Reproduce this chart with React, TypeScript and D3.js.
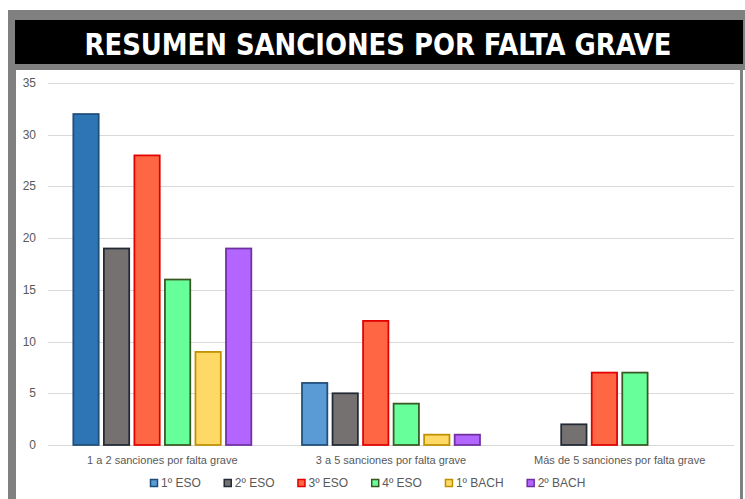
import React, { useEffect, useRef } from "react";
import * as d3 from "d3";

const title = "RESUMEN SANCIONES POR FALTA GRAVE";
const categories = [
  "1 a 2 sanciones por falta grave",
  "3 a 5 sanciones por falta grave",
  "Más de 5 sanciones por falta grave",
];
const seriesNames = ["1º ESO", "2º ESO", "3º ESO", "4º ESO", "1º BACH", "2º BACH"];
const esoPrimero = [32, 6, 0];
const esoSegundo = [19, 5, 2];
const esoTercero = [28, 12, 7];
const esoCuarto = [16, 4, 7];
const bachPrimero = [9, 1, 0];
const bachSegundo = [19, 1, 0];
const seriesValues = [esoPrimero, esoSegundo, esoTercero, esoCuarto, bachPrimero, bachSegundo];
const yTicks = [0, 5, 10, 15, 20, 25, 30, 35];

const fills = ["#5B9BD5", "#767171", "#FF6644", "#66FF99", "#FFD966", "#B266FF"];
const strokes = ["#1F4E79", "#222A35", "#E00000", "#385723", "#BF9000", "#7030A0"];
// first bar of 1º ESO in the first group is drawn darker in the reference
const pointFillOverride: Record<string, string> = { "0-0": "#2E75B6" };

const W = 745;
const H = 499;

export default function App() {
  const ref = useRef<SVGSVGElement>(null);

  useEffect(() => {
    const svg = d3.select(ref.current);
    svg.selectAll("*").remove();

    // frame
    svg.append("rect").attr("x", 8).attr("y", 10).attr("width", W - 8).attr("height", H - 10).attr("fill", "#808080");
    svg.append("rect").attr("x", 15).attr("y", 20).attr("width", 728).attr("height", 44).attr("fill", "#000");
    svg.append("rect").attr("x", 16).attr("y", 70).attr("width", 724).attr("height", H - 70).attr("fill", "#fff");
    svg.append("rect").attr("x", 743).attr("y", 70).attr("width", 2).attr("height", H - 70).attr("fill", "#fff");

    svg
      .append("text")
      .attr("x", 378)
      .attr("y", 55)
      .attr("text-anchor", "middle")
      .attr("fill", "#fff")
      .attr("font-family", "'DejaVu Sans Condensed', 'DejaVu Sans', sans-serif")
      .attr("font-weight", "bold")
      .attr("font-size", 31)
      .attr("textLength", 587)
      .attr("lengthAdjust", "spacingAndGlyphs")
      .text(title);

    const left = 48, right = 734, top = 83, bottom = 445;
    const y = d3.scaleLinear().domain([0, 35]).range([bottom, top]);
    const x0 = d3.scaleBand<string>().domain(categories).range([left, right]).paddingInner(0).paddingOuter(0);
    const inner = d3
      .scaleBand<string>()
      .domain(seriesNames)
      .range([x0.bandwidth() / 2 - 89, x0.bandwidth() / 2 + 89])
      .paddingInner(0.17);

    const axisFont = "'Liberation Sans Narrow', 'Liberation Sans', Arial, sans-serif";

    // gridlines
    svg
      .append("g")
      .selectAll("line")
      .data(yTicks)
      .join("line")
      .attr("x1", left)
      .attr("x2", right)
      .attr("y1", (d) => Math.round(y(d)) + 0.5)
      .attr("y2", (d) => Math.round(y(d)) + 0.5)
      .attr("stroke", "#D9D9D9")
      .attr("stroke-width", 1);

    svg
      .append("g")
      .selectAll("text")
      .data(yTicks)
      .join("text")
      .attr("x", 36)
      .attr("y", (d) => y(d) + 4)
      .attr("text-anchor", "end")
      .attr("fill", "#595959")
      .attr("font-family", axisFont)
      .attr("font-size", 12)
      .text((d) => String(d));

    // bars
    const g = svg.append("g");
    seriesNames.forEach((name, si) => {
      seriesValues[si].forEach((v, ci) => {
        if (v <= 0) return;
        const bx = x0(categories[ci])! + inner(name)!;
        g.append("rect")
          .attr("x", bx)
          .attr("y", y(v))
          .attr("width", inner.bandwidth())
          .attr("height", y(0) - y(v))
          .attr("fill", pointFillOverride[`${si}-${ci}`] || fills[si])
          .attr("stroke", strokes[si])
          .attr("stroke-width", 1.75);
      });
    });

    // category labels
    svg
      .append("g")
      .selectAll("text")
      .data(categories)
      .join("text")
      .attr("x", (d) => x0(d)! + x0.bandwidth() / 2)
      .attr("y", 464)
      .attr("text-anchor", "middle")
      .attr("fill", "#595959")
      .attr("font-family", axisFont)
      .attr("font-size", 11)
      .text((d) => d);

    // legend
    const lg = svg.append("g");
    let cx = 150;
    seriesNames.forEach((name, si) => {
      lg.append("rect")
        .attr("x", cx + 0.5)
        .attr("y", 479.5)
        .attr("width", 7)
        .attr("height", 7)
        .attr("fill", fills[si])
        .attr("stroke", strokes[si])
        .attr("stroke-width", 1.5);
      const t = lg
        .append("text")
        .attr("x", cx + 11)
        .attr("y", 487)
        .attr("fill", "#595959")
        .attr("font-family", axisFont)
        .attr("font-size", 12)
        .text(name);
      const w = (t.node() as SVGTextElement).getComputedTextLength();
      cx = cx + 11 + w + 23;
    });
  }, []);

  return (
    <svg
      ref={ref}
      width={W}
      height={H}
      style={{ position: "absolute", left: 0, top: 0, display: "block" }}
    />
  );
}
